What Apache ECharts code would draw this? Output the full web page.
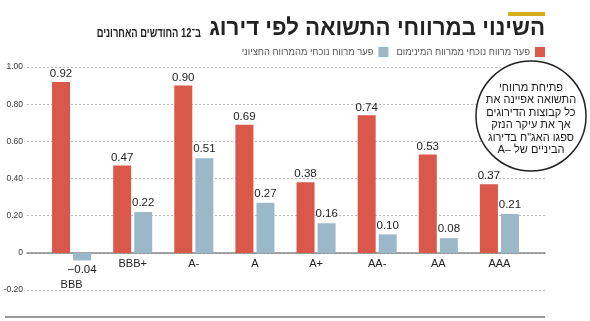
<!DOCTYPE html>
<html>
<head>
<meta charset="utf-8">
<script src="https://cdn.jsdelivr.net/npm/echarts@6/dist/echarts.min.js"></script>
<style>html,body{margin:0;padding:0;background:#fff}#c{width:590px;height:321px}</style>
</head>
<body>
<div id="c"></div>
<script>
var categories = ['BBB', 'BBB+', 'A-', 'A', 'A+', 'AA-', 'AA', 'AAA'];
var vsMinimum = [0.92, 0.47, 0.90, 0.69, 0.38, 0.74, 0.53, 0.37];
var vsMedian = [-0.04, 0.22, 0.51, 0.27, 0.16, 0.10, 0.08, 0.21];
var seriesNames = ['פער מרווח נוכחי ממרווח המינימום', 'פער מרווח נוכחי מהמרווח החציוני'];
var titleMain = 'השינוי במרווחי התשואה לפי דירוג';
var titleSub = '\u202Bב־12 החודשים האחרונים\u202C';
var noteLines = ['פתיחת מרווחי', 'התשואה אפיינה את', 'כל קבוצות הדירוגים', 'אך את עיקר הנזק', 'ספגו האג"ח בדירוג', 'A– ' + 'הביניים של'];

var FONT = 'Liberation Sans, Arial, sans-serif';
var RED = '#d9584a', BLUE = '#9bb8c8';

function fmt(v) {
  return v < 0 ? '\u2212' + Math.abs(v).toFixed(2) : v.toFixed(2);
}

var chart = echarts.init(document.getElementById('c'), null, {renderer: 'canvas'});
chart.setOption({
  animation: false,
  backgroundColor: '#fff',
  textStyle: {fontFamily: FONT},
  legend: {
    right: 45, top: 47,
    itemWidth: 10, itemHeight: 10, itemGap: 8,
    align: 'right', icon: 'rect', padding: 0,
    data: [seriesNames[1], seriesNames[0]],
    textStyle: {fontSize: 9.4, color: '#555', fontFamily: FONT}
  },
  grid: [
    {left: 27, right: 45, top: 67, bottom: 31, outerBoundsMode: 'none'},
    {left: 41, right: 60, top: 67, bottom: 68, outerBoundsMode: 'none'}
  ],
  xAxis: [
    {type: 'value', gridIndex: 0, min: 0, max: 1,
     axisLine: {show: true, onZero: true, lineStyle: {color: '#888', width: 1.5}},
     axisTick: {show: false}, axisLabel: {show: false}, splitLine: {show: false}},
    {type: 'category', gridIndex: 1, data: categories,
     axisLine: {show: false}, axisTick: {show: false},
     axisLabel: {
       interval: 0, fontSize: 11, color: '#222', margin: 5, fontFamily: FONT,
       formatter: function (v) { return v === 'BBB' ? '{low|' + v + '}' : v; },
       rich: {low: {fontSize: 11, color: '#222', fontFamily: FONT, padding: [21, 0, 0, 0]}}
     }}
  ],
  yAxis: [
    {type: 'value', gridIndex: 0, min: -0.2, max: 1, interval: 0.2,
     axisLine: {show: false}, axisTick: {show: false},
     axisLabel: {fontSize: 8.5, color: '#333', margin: 4, fontFamily: FONT,
       formatter: function (v) { return Math.abs(v) < 1e-9 ? '0' : v.toFixed(2); }},
     splitLine: {show: true, lineStyle: {color: '#bbb', type: [2, 2], width: 1}}},
    {type: 'value', gridIndex: 1, min: 0, max: 1, interval: 0.2,
     axisLine: {show: false}, axisTick: {show: false}, axisLabel: {show: false}, splitLine: {show: false}}
  ],
  series: [
    {name: seriesNames[0], type: 'bar', xAxisIndex: 1, yAxisIndex: 1, clip: false,
     data: vsMinimum, barWidth: 18, barGap: '17%',
     itemStyle: {color: RED},
     label: {show: true, position: 'top', distance: 2, fontSize: 11.5, color: '#222', fontFamily: FONT,
       formatter: function (p) { return fmt(p.value); }}},
    {name: seriesNames[1], type: 'bar', xAxisIndex: 1, yAxisIndex: 1, clip: false,
     data: vsMedian.map(function (v) { return {value: v, label: {position: v < 0 ? 'bottom' : 'top'}}; }),
     barWidth: 18, barGap: '17%',
     itemStyle: {color: BLUE},
     label: {show: true, position: 'top', distance: 3, fontSize: 11.5, color: '#222', fontFamily: FONT,
       formatter: function (p) { return fmt(p.value); }}}
  ],
  graphic: [
    {type: 'rect', shape: {x: 508, y: 12, width: 37, height: 4}, style: {fill: '#d8ac1a'}},
    {type: 'text', x: 545, y: 29,
     style: {text: titleMain, align: 'right', verticalAlign: 'middle',
       font: 'bold 22.3px ' + FONT, fill: '#222'}},
    {type: 'text', x: 201, y: 33.5, scaleX: 0.75,
     style: {text: titleSub, align: 'right', verticalAlign: 'middle',
       font: 'bold 12.5px ' + FONT, fill: '#222'}},
    {type: 'line', shape: {x1: 5, y1: 317, x2: 545, y2: 317}, style: {stroke: '#777', lineWidth: 1.5}},
    {type: 'circle', shape: {cx: 531, cy: 116, r: 55}, style: {fill: '#fff', stroke: '#222', lineWidth: 1.5}, z: 100},
    {type: 'text', x: 531, y: 119, z: 101,
     style: {text: noteLines.join('\n'), align: 'center', verticalAlign: 'middle',
       font: '11px ' + FONT, lineHeight: 12.5, fill: '#1a1a1a'}}
  ]
});
</script>
</body>
</html>
